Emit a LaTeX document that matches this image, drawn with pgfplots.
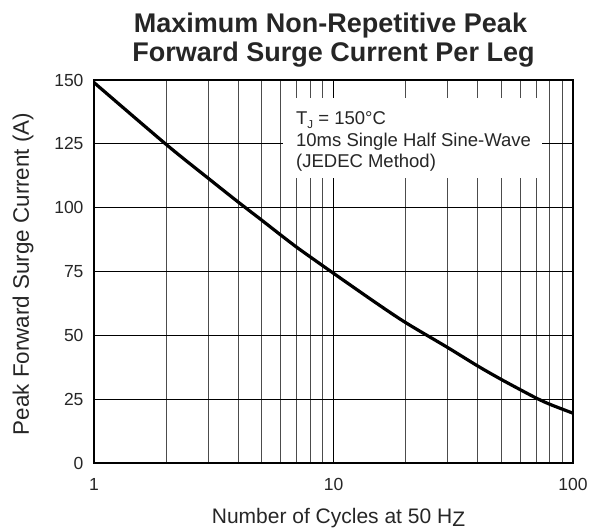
\documentclass[border=0pt]{standalone}
\usepackage{fontspec}
\setmainfont{Liberation Sans}
\usepackage{pgfplots}
\pgfplotsset{compat=1.18}

\begin{document}
\begin{tikzpicture}
\path[use as bounding box] (-94bp,-67bp) rectangle (505bp,463bp);
\begin{semilogxaxis}[
name=ax, at={(0,0)}, anchor=south west,
scale only axis,
width=479bp,
height=383bp,
xmin=1, xmax=100,
ymin=0, ymax=150,
xtick={1,10,100},
xticklabels={1,10,100},
ytick={0,25,50,75,100,125,150},
xmajorgrids, xminorgrids, ymajorgrids,
major grid style={black, line width=0.7bp},
minor grid style={black!70, line width=0.7bp},
major tick length=0pt, minor tick length=0pt,
axis line style={line width=1.8bp},
tick label style={font=\fontsize{17.5bp}{20bp}\selectfont, text=black!85},
/pgf/number format/assume math mode=true,
xticklabel style={yshift=-12bp},
yticklabel style={xshift=-7bp},
xlabel={Number of Cycles at 50 H\raisebox{-0.16em}{Z}},
ylabel={Peak Forward Surge Current (A)},
xlabel style={font=\fontsize{21bp}{24bp}\selectfont, text=black!85, inner sep=0pt,
  at={(axis description cs:0.5104,-0.157)}, anchor=base},
ylabel style={font=\fontsize{22.4bp}{26bp}\selectfont, text=black!85, inner sep=0pt,
  at={(axis description cs:-0.1357,0.4935)}, anchor=base},
]
\fill[white] (axis cs:6.15,111.6) rectangle (axis cs:74.2,142.95);
\node[anchor=base west, inner sep=0pt, font=\fontsize{18.5bp}{21bp}\selectfont, text=black!85]
  at (axis cs:6.97,132.4) {T\raisebox{-0.2em}{\fontsize{11.5bp}{12bp}\selectfont J} = 150°C};
\node[anchor=base west, inner sep=0pt, font=\fontsize{18.5bp}{21bp}\selectfont, text=black!85]
  at (axis cs:6.97,124.15) {10ms Single Half Sine-Wave};
\node[anchor=base west, inner sep=0pt, font=\fontsize{18.5bp}{21bp}\selectfont, text=black!85]
  at (axis cs:6.97,115.9) {(JEDEC Method)};
\addplot[smooth, line width=3.2bp, black] coordinates {
(1,149) (2,124.8) (3,111.5) (4,102.2) (5,95.2) (6,89.4) (7,84.6) (8,80.7)
(10,74.3) (15,62.8) (20,55) (30,45.2) (40,38) (50,32.8) (60,28.8)
(70,25.5) (80,23) (100,19.5)
};
\end{semilogxaxis}
\node[anchor=base, inner sep=0pt, font=\fontsize{27bp}{30bp}\bfseries, text=black!85]
  at ([xshift=-3bp, yshift=47.3bp]ax.north) {Maximum Non-Repetitive Peak};
\node[anchor=base, inner sep=0pt, font=\fontsize{27bp}{30bp}\bfseries, text=black!85]
  at ([yshift=18bp]ax.north) {Forward Surge Current Per Leg};
\end{tikzpicture}
\end{document}
